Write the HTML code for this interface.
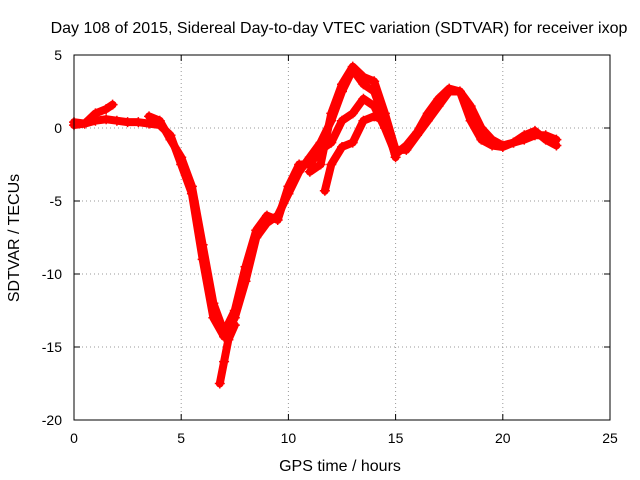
<!DOCTYPE html>
<html><head><meta charset="utf-8"><style>
body{margin:0;background:#fff;}
svg{display:block;font-family:"Liberation Sans",sans-serif;}
</style></head><body>
<svg id="chart" width="640" height="480">
<text x="339" y="33" font-size="16" text-anchor="middle">Day 108 of 2015, Sidereal Day-to-day VTEC variation (SDTVAR) for receiver ixop</text>
<text x="340" y="471" font-size="16" text-anchor="middle">GPS time / hours</text>
<text transform="translate(19,238) rotate(-90)" font-size="16" text-anchor="middle">SDTVAR / TECUs</text>
<g id="grid"></g><g id="ticks"></g><g id="series"></g>
<rect x="74" y="55" width="536" height="365" fill="none" stroke="#000" stroke-width="1"/>
</svg>
<script>
const xTicks=[0,5,10,15,20,25];
const yTicks=[5,0,-5,-10,-15,-20];
const seriesA=[[0,0.4],[0.5,0.3],[1,0.5],[1.5,0.6],[2,0.5],[2.5,0.4],[3,0.4],[3.5,0.3],[4,0.2],[4.5,-0.5],[5,-2.5],[5.5,-4.5],[6,-9],[6.5,-13],[7,-14.3],[7.5,-13],[8,-10.5],[8.5,-7.5],[9,-6.5],[9.5,-6],[10,-4.5],[10.5,-3],[11,-2],[11.5,-1],[12,0.5],[12.5,2.5],[13,4],[13.5,3],[14,2.5],[14.5,0.5],[15,-1.5],[15.5,-1.5],[16,-0.5],[16.5,0.5],[17,1.5],[17.5,2.5],[18,2.5],[18.5,1.5],[19,0],[19.5,-0.8],[20,-1.2],[20.5,-1],[21,-0.8],[21.5,-0.5],[22,-0.5],[22.5,-0.8]];
const seriesB=[[0,0.2],[0.5,0.3],[1,1],[1.5,1.3],[1.8,1.6]];
const seriesC=[[3.5,0.8],[4,0.5],[4.5,-0.8],[5,-2],[5.5,-4],[6,-8],[6.5,-12],[7,-14],[7.5,-12.5],[8,-9.5],[8.5,-7],[9,-6],[9.5,-6.3],[10,-4],[10.5,-2.5],[11,-2.5],[11.5,-1.5],[12,-1],[12.5,0.5],[13,1],[13.5,2],[14,1.5],[14.5,0],[15,-1.8],[15.5,-1.2],[16,-0.3],[16.5,1],[17,2],[17.5,2.7],[18,2.5],[18.5,0.5],[19,-0.8],[19.5,-1.2],[20,-1.3],[20.5,-1],[21,-0.5],[21.5,-0.2],[22,-0.8],[22.5,-1.2]];
const seriesD=[[11,-3],[11.5,-2.5],[12,1],[12.5,3],[13,4.2],[13.5,3.5],[14,3.2],[14.5,1],[15,-1.5]];
const seriesE=[[11.7,-4.3],[12,-2.5],[12.5,-1.3],[13,-1],[13.5,0.5],[14,0.8],[14.5,0.5],[15,-2]];
const seriesF=[[6.8,-17.5],[7,-16],[7.2,-14.5],[7.5,-13.5]];
const allSeries=[seriesA,seriesB,seriesC,seriesD,seriesE,seriesF];
const NS="http://www.w3.org/2000/svg";
function xs(v){return 74+v*(536/25);}
function ys(v){return 55+(5-v)*(365/25);}
const grid=document.getElementById('grid'),ticks=document.getElementById('ticks'),ser=document.getElementById('series');
function mk(tag,attrs,parent){const e=document.createElementNS(NS,tag);for(const k in attrs)e.setAttribute(k,attrs[k]);parent.appendChild(e);return e;}
xTicks.forEach(t=>{
  const x=xs(t);
  if(t>0&&t<25){const g=mk('line',{x1:x,x2:x,y1:55,y2:420,stroke:'#999','stroke-dasharray':'1,3'},grid);
  
  }
  mk('line',{x1:x,x2:x,y1:420,y2:414,stroke:'#000'},ticks);
  mk('line',{x1:x,x2:x,y1:55,y2:61,stroke:'#000'},ticks);
  const l=mk('text',{x:x,y:443,'font-size':14,'text-anchor':'middle'},ticks);l.textContent=t;
  
  
});
yTicks.forEach(t=>{
  const y=ys(t);
  if(t<5&&t>-20){const g=mk('line',{x1:74,x2:610,y1:y,y2:y,stroke:'#999','stroke-dasharray':'1,3'},grid);
  
  }
  mk('line',{x1:74,x2:80,y1:y,y2:y,stroke:'#000'},ticks);
  mk('line',{x1:610,x2:604,y1:y,y2:y,stroke:'#000'},ticks);
  const l=mk('text',{x:62,y:y+5,'font-size':14,'text-anchor':'end'},ticks);l.textContent=t;
  
  
});
allSeries.forEach((s,i)=>{
  const pts=s.map(p=>xs(p[0])+','+ys(p[1])).join(' ');
  const pl=mk('polyline',{points:pts,fill:'none',stroke:'#f00','stroke-width':8,'stroke-linejoin':'round','stroke-linecap':'round'},ser);
  
  
  s.forEach(p=>{
    const x=xs(p[0]),y=ys(p[1]);
    const m=mk('path',{d:`M${x-5},${y}H${x+5}M${x},${y-5}V${y+5}`,stroke:'#f00','stroke-width':1.5},ser);
    
    
  });
});
</script>
</body></html>
